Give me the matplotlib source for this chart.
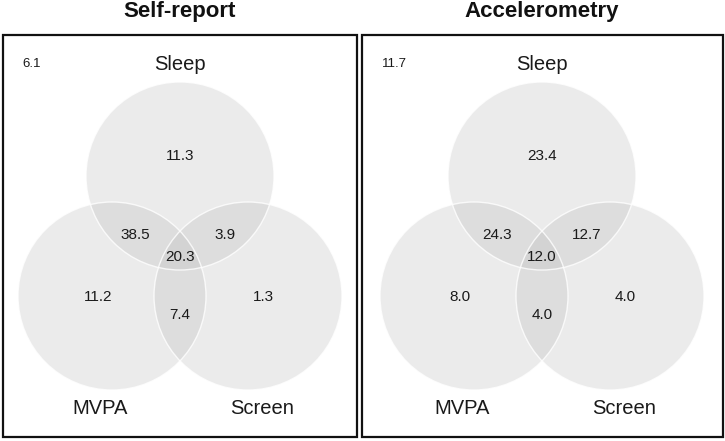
import matplotlib
matplotlib.use('Agg')
import matplotlib.pyplot as plt
from matplotlib.patches import Circle, Rectangle

plt.rcParams['font.family'] = ['Liberation Sans', 'DejaVu Sans']

# panel data
panels = ['Self-report', 'Accelerometry']
sets = ['Sleep', 'MVPA', 'Screen']
# regions: outside, sleep only, sleep&mvpa, sleep&screen, all, mvpa only, screen only, mvpa&screen
region_names = ['none', 'sleep', 'sleep_mvpa', 'sleep_screen', 'all', 'mvpa', 'screen', 'mvpa_screen']
self_report = [6.1, 11.3, 38.5, 3.9, 20.3, 11.2, 1.3, 7.4]
accelerometry = [11.7, 23.4, 24.3, 12.7, 12.0, 8.0, 4.0, 4.0]
values = [self_report, accelerometry]

W, H = 725, 441
fig = plt.figure(figsize=(W / 100, H / 100), dpi=100)
ax = fig.add_axes([0, 0, 1, 1])
ax.set_xlim(0, W)
ax.set_ylim(H, 0)
ax.axis('off')

# layout in pixels
boxes = [(3, 35, 354, 402), (362, 35, 361, 402)]
centers_x = [180, 542]
r = 94
# offsets of circle centres from panel centre
circ_off = {'Sleep': (0, 176), 'MVPA': (-68, 296), 'Screen': (68, 296)}
# offsets of region labels
reg_off = {'none': (-148, 64), 'sleep': (0, 156), 'sleep_mvpa': (-45, 235),
           'sleep_screen': (45, 235), 'all': (0, 257), 'mvpa': (-82, 297),
           'screen': (83, 297), 'mvpa_screen': (0, 315)}
name_off = {'Sleep': (0, 65), 'MVPA': (-80, 409), 'Screen': (82, 409)}

for p, (title, vals) in enumerate(zip(panels, values)):
    bx, by, bw, bh = boxes[p]
    cx = centers_x[p]
    ax.add_patch(Rectangle((bx, by), bw, bh, fill=False, edgecolor='#111111', lw=1.6))
    ax.text(cx, 12, title, ha='center', va='center', fontsize=16,
            fontweight='bold', color='#111111')
    for s in sets:
        dx, y = circ_off[s]
        ax.add_patch(Circle((cx + dx, y), r, facecolor='#bdbdbd', alpha=0.3,
                            edgecolor='none'))
    for s in sets:
        dx, y = circ_off[s]
        ax.add_patch(Circle((cx + dx, y), r, facecolor='none',
                            edgecolor='white', lw=1.0, alpha=0.8))
    for s in sets:
        dx, y = name_off[s]
        ax.text(cx + dx, y, s, ha='center', va='center', fontsize=14.5,
                color='#1a1a1a')
    for name, v in zip(region_names, vals):
        dx, y = reg_off[name]
        ax.text(cx + dx, y, f'{v:.1f}', ha='center', va='center',
                fontsize=9.5 if name == 'none' else 11, color='#1a1a1a')

fig.savefig('out.png', dpi=100, facecolor='white')
